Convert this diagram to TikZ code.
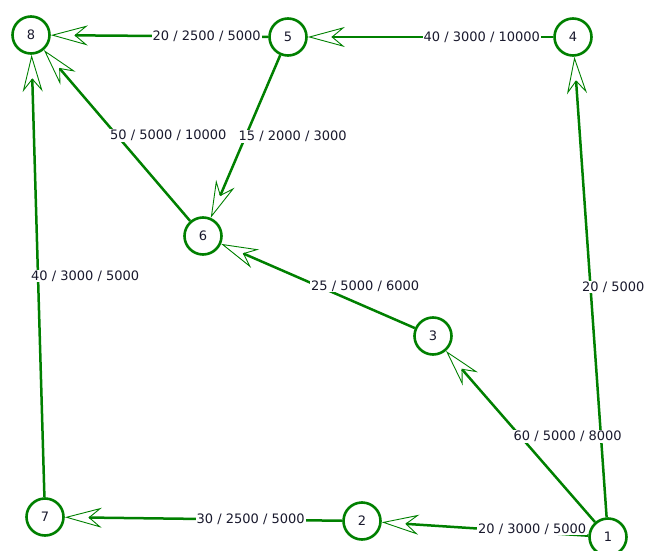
\documentclass[tikz,border=0pt]{standalone}
\usepackage{fontspec}
\setmainfont{DejaVu Sans}
\usetikzlibrary{arrows.meta}
\pgfdeclarelayer{bg}
\pgfsetlayers{bg,main}
\definecolor{edgegreen}{RGB}{0,128,0}
\definecolor{txt}{RGB}{25,25,45}
\begin{document}
\begin{tikzpicture}[x=1pt,y=-1pt,
  vert/.style={circle,draw=edgegreen,line width=2.6pt,fill=white,minimum size=37pt,inner sep=0pt,text=txt,font=\fontsize{13}{15}\selectfont},
  conn/.style={draw=edgegreen,line width=2.5pt,
    -{Stealth[open,length=37pt,width=20pt,inset=12pt,line width=0.9pt]}},
  lbl/.style={anchor=west,xshift=-8pt,fill=white,inner sep=1pt,text=txt,font=\fontsize{13}{15}\selectfont}
]
\useasboundingbox (0,0) rectangle (645,551);
\node[vert] (n8) at (31,35) {8};
\node[vert] (n5) at (288,37) {5};
\node[vert] (n4) at (573,37) {4};
\node[vert] (n6) at (203,236) {6};
\node[vert] (n3) at (433,336) {3};
\node[vert] (n7) at (45,517) {7};
\node[vert] (n2) at (362,521) {2};
\node[vert] (n1) at (608,537) {1};
\begin{pgfonlayer}{bg}
\draw[conn] (n5) -- (n8);
\draw[conn] (n4) -- (n5);
\draw[conn] (n6) -- (n8);
\draw[conn] (n5) -- (n6);
\draw[conn] (n3) -- (n6);
\draw[conn] (n1) -- (n3);
\draw[conn] (n1) -- (n4);
\draw[conn] (n1) -- (n2);
\draw[conn] (n2) -- (n7);
\draw[conn] (n7) -- (n8);
\path (n5) -- (n8) node[lbl,pos=.5] {20 / 2500 / 5000};
\path (n4) -- (n5) node[lbl,pos=.5] {40 / 3000 / 10000};
\path (n6) -- (n8) node[lbl,pos=.5] {50 / 5000 / 10000};
\path (n5) -- (n6) node[lbl,pos=.5] {15 / 2000 / 3000};
\path (n3) -- (n6) node[lbl,pos=.5] {25 / 5000 / 6000};
\path (n1) -- (n3) node[lbl,pos=.5] {60 / 5000 / 8000};
\path (n1) -- (n4) node[lbl,pos=.5,xshift=-1.5pt] {20 / 5000};
\path (n1) -- (n2) node[lbl,pos=.5] {20 / 3000 / 5000};
\path (n2) -- (n7) node[lbl,pos=.5] {30 / 2500 / 5000};
\path (n7) -- (n8) node[lbl,pos=.5] {40 / 3000 / 5000};
\end{pgfonlayer}
\end{tikzpicture}
\end{document}
